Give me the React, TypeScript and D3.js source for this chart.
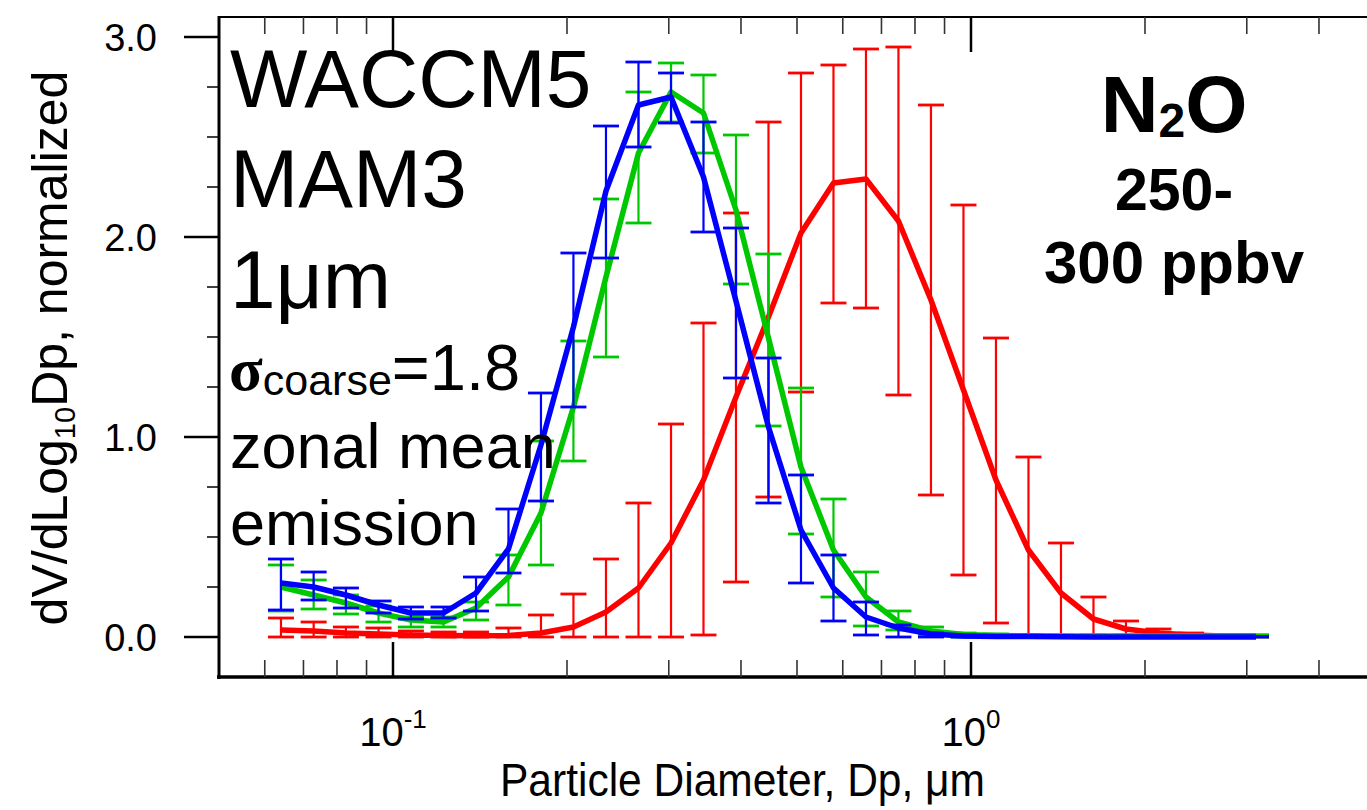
import React from "react";
import * as d3 from "d3";

// Particle diameter bins (µm)
const diameters = [0.0640, 0.0729, 0.0829, 0.0944, 0.1074, 0.1223, 0.1392, 0.1584, 0.1803, 0.2052, 0.2336, 0.2659, 0.3027, 0.3445, 0.3921, 0.4463, 0.5080, 0.5782, 0.6581, 0.7490, 0.8526, 0.9705, 1.1046, 1.2573, 1.4311, 1.6289, 1.8541, 2.1103, 2.4020, 2.7340, 3.1120];

const blueMean = [0.27, 0.25, 0.21, 0.16, 0.12, 0.12, 0.22, 0.44, 0.96, 1.55, 2.23, 2.66, 2.70, 2.30, 1.68, 1.05, 0.535, 0.245, 0.10, 0.045, 0.015, 0.005, 0.003, 0.002, 0.001, 0.0, 0.0, 0.0, 0.0, 0.0, 0.0];
const blueUpper = [0.39, 0.325, 0.245, 0.18, 0.15, 0.15, 0.30, 0.64, 1.22, 1.92, 2.555, 2.875, 2.82, 2.575, 2.045, 1.395, 0.81, 0.41, 0.175, 0.06, 0.02, 0.01, 0.005, 0.004, 0.003, 0.002, 0.002, 0.002, 0.002, 0.002, 0.002];
const blueLower = [0.135, 0.185, 0.145, 0.12, 0.09, 0.095, 0.13, 0.32, 0.68, 1.15, 1.895, 2.45, 2.57, 2.025, 1.295, 0.67, 0.27, 0.08, 0.01, 0.0, 0.0, 0.0, 0.0, 0.0, 0.0, 0.0, 0.0, 0.0, 0.0, 0.0, 0.0];

const greenMean = [0.25, 0.21, 0.17, 0.12, 0.085, 0.075, 0.145, 0.30, 0.62, 1.15, 1.80, 2.42, 2.725, 2.62, 2.135, 1.495, 0.85, 0.435, 0.20, 0.075, 0.03, 0.012, 0.008, 0.006, 0.005, 0.005, 0.005, 0.005, 0.005, 0.005, 0.005];
const greenUpper = [0.36, 0.285, 0.21, 0.155, 0.10, 0.10, 0.175, 0.41, 0.98, 1.48, 2.19, 2.725, 2.87, 2.81, 2.51, 1.915, 1.245, 0.69, 0.325, 0.13, 0.05, 0.02, 0.015, 0.012, 0.01, 0.01, 0.01, 0.01, 0.01, 0.01, 0.01];
const greenLower = [0.13, 0.14, 0.115, 0.075, 0.05, 0.05, 0.085, 0.16, 0.36, 0.88, 1.40, 2.07, 2.575, 2.42, 1.765, 1.055, 0.515, 0.20, 0.055, 0.035, 0.01, 0.0, 0.0, 0.0, 0.0, 0.0, 0.0, 0.0, 0.0, 0.0, 0.0];

const redMean = [0.035, 0.03, 0.02, 0.015, 0.01, 0.008, 0.006, 0.008, 0.02, 0.05, 0.125, 0.245, 0.47, 0.785, 1.20, 1.60, 2.02, 2.27, 2.29, 2.08, 1.685, 1.235, 0.785, 0.435, 0.22, 0.09, 0.04, 0.02, 0.01, 0.005, 0.005];
const redUpper = [0.095, 0.075, 0.05, 0.045, 0.03, 0.025, 0.025, 0.045, 0.11, 0.215, 0.39, 0.67, 1.065, 1.57, 2.12, 2.575, 2.82, 2.86, 2.94, 2.95, 2.66, 2.16, 1.495, 0.90, 0.47, 0.20, 0.08, 0.04, 0.02, 0.01, 0.01];
const redLower = [0.0, 0.0, 0.0, 0.0, 0.0, 0.0, 0.0, 0.0, 0.0, 0.0, 0.0, 0.0, 0.0, 0.01, 0.275, 0.70, 1.225, 1.67, 1.645, 1.21, 0.71, 0.31, 0.07, 0.01, 0.0, 0.0, 0.0, 0.0, 0.0, 0.0, 0.0];

const yMajorTicks = [0, 1, 2, 3];
const yTickLabels = ["0.0", "1.0", "2.0", "3.0"];
const yMinorTicks = [0.25, 0.5, 0.75, 1.25, 1.5, 1.75, 2.25, 2.5, 2.75];
const xMajorTicks = [0.1, 1];
const xTickExponents = ["-1", "0"];
const xMinorTicks = [0.06, 0.07, 0.08, 0.09, 0.2, 0.3, 0.4, 0.5, 0.6, 0.7, 0.8, 0.9, 2, 3, 4];

const series = [
  { color: "#ff0000", mean: redMean, upper: redUpper, lower: redLower },
  { color: "#00c800", mean: greenMean, upper: greenUpper, lower: greenLower },
  { color: "#0000ff", mean: blueMean, upper: blueUpper, lower: blueLower },
];

const SANS = "'Liberation Sans', Arial, Helvetica, sans-serif";

export default function App() {
  const left = 219, right = 1375, top = 17, bottom = 677;
  const x = d3.scaleLog().domain([0.05, 5]).range([left, right]);
  const y = d3.scaleLinear().domain([-0.2, 3.1]).range([bottom, top]);
  const line = d3.line<number>()
    .x((_, i) => x(diameters[i]))
    .y((d) => y(d));
  const capHalf = 13;

  return (
    <svg width={1367} height={810} style={{ position: "absolute", left: 0, top: 0, background: "#fff" }} fontFamily={SANS}>
      <rect x={0} y={0} width={1367} height={810} fill="#fff" />
      {/* data */}
      {series.map((s, si) => (
        <g key={si}>
          {diameters.map((d, i) => (
            <g key={i} stroke={s.color} strokeWidth={2.2}>
              <line x1={x(d)} x2={x(d)} y1={y(s.upper[i])} y2={y(s.lower[i])} />
              <line x1={x(d) - capHalf} x2={x(d) + capHalf} y1={y(s.upper[i])} y2={y(s.upper[i])} strokeWidth={2.8} />
              <line x1={x(d) - capHalf} x2={x(d) + capHalf} y1={y(s.lower[i])} y2={y(s.lower[i])} strokeWidth={2.8} />
            </g>
          ))}
          <path d={line(s.mean) || ""} fill="none" stroke={s.color} strokeWidth={5.5} strokeLinejoin="round" />
        </g>
      ))}

      {/* frame */}
      <line x1={left} x2={1367} y1={top} y2={top} stroke="#000" strokeWidth={2} />
      <line x1={left} x2={left} y1={top - 1} y2={bottom + 2} stroke="#000" strokeWidth={3} />
      <line x1={left - 2} x2={1367} y1={bottom} y2={bottom} stroke="#000" strokeWidth={3.5} />

      {/* y ticks */}
      {yMajorTicks.map((t, i) => (
        <g key={"ym" + t}>
          <line x1={184} x2={left} y1={y(t)} y2={y(t)} stroke="#000" strokeWidth={2.5} />
          <text x={157} y={y(t)} dy="0.36em" textAnchor="end" fontSize={38}>{yTickLabels[i]}</text>
        </g>
      ))}
      {yMinorTicks.map((t) => (
        <line key={"yn" + t} x1={207} x2={left} y1={y(t)} y2={y(t)} stroke="#000" strokeWidth={1.5} />
      ))}

      {/* x ticks */}
      {xMajorTicks.map((t, i) => (
        <g key={"xm" + t}>
          <line x1={x(t)} x2={x(t)} y1={bottom} y2={bottom - 35} stroke="#000" strokeWidth={2.5} />
          <line x1={x(t)} x2={x(t)} y1={top} y2={top + 35} stroke="#000" strokeWidth={2.5} />
          <text x={x(t)} y={746} textAnchor="middle" fontSize={40}>
            10<tspan fontSize={26} dy={-18}>{xTickExponents[i]}</tspan>
          </text>
        </g>
      ))}
      {xMinorTicks.map((t) => (
        <g key={"xn" + t} stroke="#333" strokeWidth={1.6}>
          <line x1={x(t)} x2={x(t)} y1={bottom} y2={bottom - 17} />
          <line x1={x(t)} x2={x(t)} y1={top} y2={top + 17} />
        </g>
      ))}

      {/* axis titles */}
      <text x={500} y={796} fontSize={47} textLength={485} lengthAdjust="spacingAndGlyphs">Particle Diameter, Dp, μm</text>
      <text transform="translate(67,348) rotate(-90)" textAnchor="middle" fontSize={50}>
        dV/dLog<tspan fontSize={29} dy={8}>10</tspan><tspan dy={-8}>Dp, normalized</tspan>
      </text>

      {/* left annotations */}
      <text x={230} y={107} fontSize={82}>WACCM5</text>
      <text x={230} y={207} fontSize={82}>MAM3</text>
      <text x={230} y={308} fontSize={82}>1μm</text>
      <text x={229} y={390}>
        <tspan fontFamily="'Liberation Serif', 'Times New Roman', serif" fontWeight="bold" fontSize={62}>σ</tspan>
        <tspan fontSize={43} dy={5}>coarse</tspan>
        <tspan fontSize={65} dy={-5}>=1.8</tspan>
      </text>
      <text x={230} y={468} fontSize={63}>zonal mean</text>
      <text x={230} y={545} fontSize={63}>emission</text>

      {/* right annotations */}
      <text x={1174} y={132} textAnchor="middle" fontWeight="bold" fontSize={80}>
        N<tspan fontSize={48} dy={5}>2</tspan><tspan dy={-5}>O</tspan>
      </text>
      <text x={1174} y={210} textAnchor="middle" fontWeight="bold" fontSize={59}>250-</text>
      <text x={1174} y={283} textAnchor="middle" fontWeight="bold" fontSize={60}>300 ppbv</text>
    </svg>
  );
}
